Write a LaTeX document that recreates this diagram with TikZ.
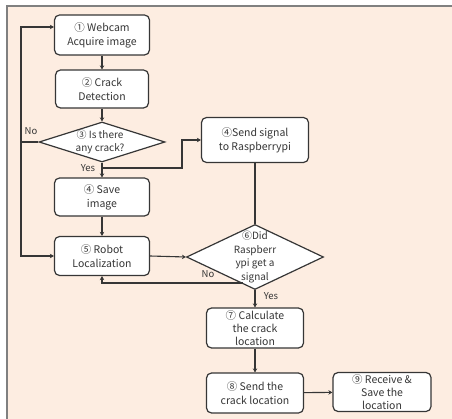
\documentclass[tikz,border=0pt]{standalone}
\usepackage{fontspec}
\setmainfont{Noto Sans CJK KR}
\usetikzlibrary{shapes.geometric,arrows.meta,calc}

\definecolor{peach}{HTML}{FDEDE1}
\definecolor{framegray}{HTML}{808080}
\definecolor{ink}{HTML}{363636}

\tikzset{
  box/.style={draw=ink, line width=1.2pt, rounded corners=5pt, fill=white, align=center,
    text=ink, inner sep=1pt, font=\fontsize{10.5}{14}\selectfont},
  dia/.style={draw=ink, line width=1.2pt, diamond, fill=white, inner sep=0pt},
  diatext/.style={align=center, text=ink, inner sep=0pt, font=\fontsize{10}{12.5}\selectfont},
  arr/.style={draw=ink, line width=1.1pt, -{Stealth[length=4pt,width=4.5pt]}},
  lin/.style={draw=ink, line width=1.1pt},
  lab/.style={text=ink, inner sep=0pt, font=\fontsize{9.5}{11}\selectfont}
}

\begin{document}
\begin{tikzpicture}[x=1pt, y=-1pt]
        % Sfondo e cornice
        \useasboundingbox (0,0) rectangle (452,419);
        \fill[white] (0,0) rectangle (452,419);
        \fill[peach] (7,6) rectangle (452,419);
        \draw[framegray, line width=2pt] (7,419) -- (7,6) -- (452,6);

        % Colonna sinistra
        \node[box, minimum width=95pt, minimum height=40pt] (webcam) at (102,35) {① Webcam\\Acquire image};
        \node[box, minimum width=93pt, minimum height=38pt] (detect) at (102,89) {② Crack\\Detection};
        \node[dia, minimum width=126pt, minimum height=40pt] (isCrack) at (102,142) {};
        \node[diatext] (isCrackText) at (100,142) {③ Is there\\any crack?};
        \node[box, minimum width=95pt, minimum height=38pt] (save) at (102,197) {④ Save\\image};
        \node[box, minimum width=95pt, minimum height=39pt] (local) at (102,256) {⑤ Robot\\Localization};

        % Colonna destra
        \node[box, minimum width=107pt, minimum height=45pt] (signal) at (255,140) {④Send signal\\to Raspberrypi};
        \node[dia, minimum width=137pt, minimum height=65pt] (gotSignal) at (255,257) {};
        \node[diatext, font=\fontsize{10}{13.5}\selectfont] (gotSignalText) at (255,257) {⑥Did\\Raspberr\\ypi get a\\signal};
        \node[box, minimum width=97pt, minimum height=40pt, font=\fontsize{10.5}{13}\selectfont] (calc) at (255,328) {⑦ Calculate\\the crack\\location};
        \node[box, minimum width=97pt, minimum height=40pt] (send) at (255,393) {⑧ Send the\\crack location};
        \node[box, minimum width=98pt, minimum height=39pt, font=\fontsize{10.5}{13}\selectfont] (receive) at (382,392) {⑨ Receive \&\\Save the\\location};

        % Punti di appoggio
        \coordinate (leftBus) at (21,142);
        \coordinate (yesSplit) at (102,168);
        \coordinate (noStart) at (243,283);

        % Frecce
        \draw[arr] (webcam) -- (detect);
        \draw[arr] (detect) -- (isCrack);
        \draw[arr] (isCrack.west) -- (leftBus) |- ($(webcam.west)+(0,-8)$);
        \draw[arr] (leftBus) |- (local.west);
        \draw[arr] (isCrack.south) -- (save.north);
        \draw[arr] (yesSplit) -- ++(80,0) |- (signal.west);
        \draw[arr] (save) -- (local);
        \draw[arr] (local.east) -- (gotSignal.west);
        \draw[lin] (signal.south) -- (gotSignal.north);
        \draw[arr] (noStart) -| (local.south);
        \draw[arr] (gotSignal.south) -- (calc.north);
        \draw[arr] (calc) -- (send);
        \draw[arr] (send) -- (receive);

        % Etichette
        \node[lab] (noCrack) at (31,131) {No};
        \node[lab] (yesCrack) at (88,168) {Yes};
        \node[lab] (noSignal) at (208,274) {No};
        \node[lab] (yesSignal) at (271,296) {Yes};
\end{tikzpicture}
\end{document}
